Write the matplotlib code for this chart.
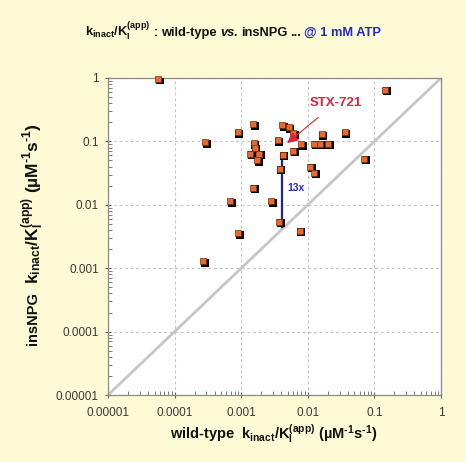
import matplotlib
matplotlib.use("Agg")
import matplotlib.pyplot as plt
from matplotlib.transforms import offset_copy
from matplotlib.ticker import FixedLocator, FixedFormatter, LogLocator, NullFormatter

plt.rcParams['font.family'] = ['Liberation Sans', 'DejaVu Sans']
plt.rcParams['mathtext.fontset'] = 'custom'
plt.rcParams['mathtext.rm'] = 'Liberation Sans:bold'
plt.rcParams['mathtext.bf'] = 'Liberation Sans:bold'
plt.rcParams['mathtext.it'] = 'Liberation Sans:italic:bold'
plt.rcParams['mathtext.sf'] = 'Liberation Sans:bold'
plt.rcParams['mathtext.default'] = 'bf'

# ---- data ----
wild_type = [5.7e-5, 0.144, 0.00088, 0.00029, 0.0015, 0.0041, 0.0052, 0.006,
             0.0161, 0.036, 0.00354, 0.0079, 0.0126, 0.0152, 0.0203, 0.00153,
             0.0016, 0.00137, 0.00187, 0.00173, 0.006, 0.0042, 0.0038, 0.0109,
             0.0124, 0.0015, 0.00068, 0.0028, 0.0037, 0.0009, 0.00027, 0.0076,
             0.0697]
ins_npg = [0.97, 0.65, 0.139, 0.098, 0.186, 0.179, 0.169, 0.136,
           0.129, 0.141, 0.104, 0.091, 0.092, 0.092, 0.092, 0.094,
           0.080, 0.064, 0.064, 0.050, 0.071, 0.062, 0.037, 0.040,
           0.032, 0.0186, 0.0113, 0.0113, 0.0054, 0.0036, 0.0013, 0.0039,
           0.053]
tick_values = [1e-5, 1e-4, 1e-3, 1e-2, 1e-1, 1]
tick_labels = ["0.00001", "0.0001", "0.001", "0.01", "0.1", "1"]
stx_point = (0.0049, 0.094)
stx_text_pos = (0.026, 0.40)
fold_x = 0.0041
fold_range = (0.0045, 0.058)
fold_label = "13x"

BG = '#FDFBD6'
W, H = 466, 462
fig = plt.figure(figsize=(W / 100, H / 100), dpi=100, facecolor=BG)
ax = fig.add_axes([108 / W, 1 - 395 / H, (441 - 108) / W, (395 - 78) / H])
ax.set_facecolor('white')
ax.set_xscale('log')
ax.set_yscale('log')
ax.set_xlim(1e-5, 1)
ax.set_ylim(1e-5, 1)

for s in ax.spines.values():
    s.set_color('#8a8a8a')
    s.set_linewidth(0.9)

ax.grid(True, which='major', color='#c4c4c4', linestyle=(0, (2.5, 2.5)), linewidth=0.8)
ax.set_axisbelow(True)

for axis in (ax.xaxis, ax.yaxis):
    axis.set_major_locator(FixedLocator(tick_values))
    axis.set_major_formatter(FixedFormatter(tick_labels))
ax.yaxis.set_minor_locator(LogLocator(base=10, subs=range(2, 10), numticks=20))
ax.yaxis.set_minor_formatter(NullFormatter())
ax.xaxis.set_minor_locator(LogLocator(base=10, subs=range(2, 10), numticks=20))
ax.xaxis.set_minor_formatter(NullFormatter())
ax.tick_params(axis='both', which='major', labelsize=8.5, labelcolor='#383838',
               color='#666666', direction='inout', length=5, width=0.8)
ax.tick_params(axis='both', which='minor', direction='in', length=3, width=0.6, color='#666666')
ax.tick_params(axis='x', which='major', pad=6)
ax.tick_params(axis='y', which='major', pad=4)

# diagonal y = x
ax.plot(tick_values, tick_values, color='#c6c6c6', lw=2, zorder=1.5)

# fold-change line
ax.plot([fold_x, fold_x], fold_range, color='#22229a', lw=1.6, zorder=2)
ax.text(fold_x * 1.2, 0.0184, fold_label, color='#2a2ab8', fontsize=7.5,
        fontweight='bold', ha='left', va='center', zorder=2)

# points with shadow
shadow_tr = offset_copy(ax.transData, fig=fig, x=1.6, y=-1.6, units='dots')
ax.scatter(wild_type, ins_npg, marker='s', s=26, color='black', transform=shadow_tr,
           zorder=3, linewidths=0)
ax.scatter(wild_type, ins_npg, marker='s', s=24, facecolor='#E8692E',
           edgecolor='#7a3010', linewidths=0.5, zorder=4, clip_on=False)

# STX-721 annotation
ax.annotate("STX-721", xy=stx_point, xytext=stx_text_pos, color='#E0233A',
            fontsize=9.5, fontweight='bold', ha='center', va='center', zorder=5,
            arrowprops=dict(arrowstyle='-|>,head_length=0.7,head_width=0.35',
                            color='#E0233A', lw=0.8, shrinkA=6, shrinkB=0))

unit = r"(µM$^{\text{-}1}$s$^{\text{-}1}$)"
kratio = r"$k_{inact}/K_I^{(app)}$"
# x axis label
fig.text(274 / W, 1 - 434 / H, "wild-type  " + kratio + " " + unit,
         fontsize=10.5, fontweight='bold', ha='center', va='center', color='#111111')
# y axis label: "insNPG" then ratio/unit, stacked upward
fig.text(33 / W, 1 - 345 / H, "insNPG", fontsize=10.5, fontweight='bold',
         ha='center', va='bottom', rotation=90, color='#111111')
fig.text(33 / W, 1 - 284 / H, kratio + " " + unit, fontsize=12.5, fontweight='bold',
         ha='center', va='bottom', rotation=90, color='#111111')

# title in pieces (baseline aligned)
ty = 1 - 36 / H
pieces = [
    (kratio, '#111111', 'normal', 0),
    (":", '#111111', 'normal', 4),
    ("wild-type", '#111111', 'normal', 3),
    ("vs.", '#111111', 'italic', 3),
    ("insNPG", '#111111', 'normal', 3),
    ("...", '#111111', 'normal', 3),
    ("@ 1 mM ATP", '#2626CC', 'normal', 3),
]
texts = []
for s, c, st, gap in pieces:
    t = fig.text(0, ty, s, fontsize=9.3, fontweight='bold', fontstyle=st,
                 ha='left', va='baseline', color=c)
    texts.append((t, gap))
fig.canvas.draw()
r = fig.canvas.get_renderer()
widths = [t.get_window_extent(r).width for t, _ in texts]
total = sum(widths) + sum(g for _, g in texts)
x = 233 - total / 2
for (t, gap), w in zip(texts, widths):
    x += gap
    t.set_x(x / W)
    x += w

fig.savefig("out.png", dpi=100, facecolor=BG)
